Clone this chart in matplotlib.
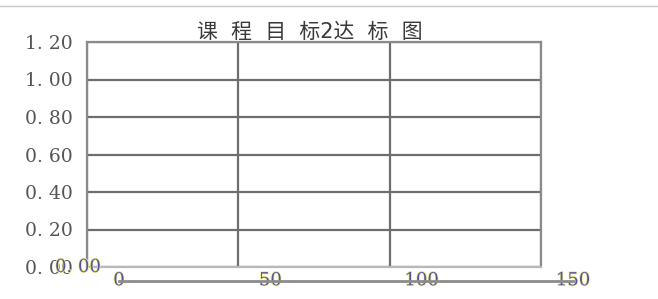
import matplotlib.pyplot as plt
import matplotlib.transforms as mtransforms
import matplotlib.patheffects as pe

# chart data (empty achievement chart)
title = "课程目标2达标图"
x_ticks = [0, 50, 100, 150]
y_ticks = [0.0, 0.2, 0.4, 0.6, 0.8, 1.0, 1.2]
x_values = []
y_values = []

plt.rcParams['font.family'] = ['DejaVu Sans', 'Noto Sans CJK SC']

W, H = 658, 299
fig = plt.figure(figsize=(W / 100, H / 100), dpi=100)
ax = fig.add_axes([87 / W, 1 - 267 / H, (541 - 87) / W, (267 - 42) / H])

ax.scatter(x_values, y_values)
ax.set_xlim(0, 150)
ax.set_ylim(0, 1.2)
ax.set_xticks(x_ticks)
ax.set_yticks(y_ticks)

ax.grid(True, color='#6e6e6e', linewidth=1.6)
for s in ax.spines.values():
    s.set_color('#8a8a8a')
    s.set_linewidth(1.6)
ax.spines['bottom'].set_color('#b8b8b8')
ax.tick_params(length=0)
ax.tick_params(axis='y', pad=10)
ax.set_yticklabels([f"{v:.2f}".replace('.', '. ') for v in y_ticks],
                   family='DejaVu Serif', fontsize=13.5, color='#555555')
ax.set_xticklabels([])

halo = [pe.withStroke(linewidth=1.2, foreground='#f3ee9a')]

# shifted copy of the x axis carrying the tick labels
ax2 = fig.add_axes([(87 + 32) / W, 1 - 281 / H, (541 - 87) / W, 0.001])
ax2.set_xlim(ax.get_xlim())
ax2.set_xticks(x_ticks)
ax2.set_yticks([])
ax2.patch.set_visible(False)
for side in ['top', 'left', 'right']:
    ax2.spines[side].set_visible(False)
ax2.spines['bottom'].set_color('#8c8c8c')
ax2.spines['bottom'].set_linewidth(2)
ax2.tick_params(length=0, pad=-7)
ax2.set_xticklabels([str(v) for v in x_ticks], family='DejaVu Serif',
                    fontsize=13, color='#55559e')
for lab in ax2.get_xticklabels():
    lab.set_path_effects(halo)

# ghost "0. 00" overlapping the bottom y label
ax.text(0, 0, "0. 00", transform=ax.transData + mtransforms.ScaledTranslation(
        -0.32, 0.0, fig.dpi_scale_trans), family='DejaVu Serif', fontsize=13,
        color='#55559e', ha='left', va='center', path_effects=halo)

ax.set_title("  ".join(["课", "程", "目", "标2达", "标", "图"]), fontsize=15,
             color='#3a3a3a', pad=3, x=0.49)

# thin rule along the top of the picture
fig.add_artist(plt.Line2D([0, 1], [1 - 6 / H, 1 - 6 / H], color='#c8c8c8', linewidth=1))

fig.savefig('out.png', dpi=100)
